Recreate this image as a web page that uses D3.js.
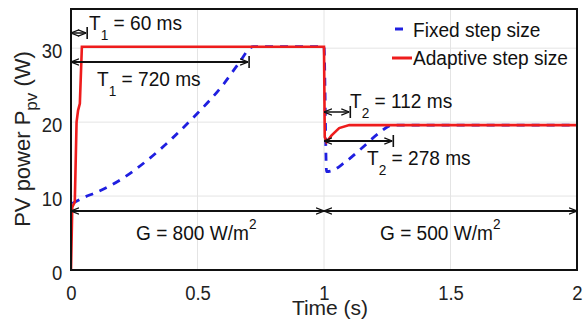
<!DOCTYPE html>
<html>
<head>
<meta charset="utf-8">
<script src="https://cdn.jsdelivr.net/npm/d3@7"></script>
<style>
  body { margin: 0; background: #fff; }
  svg { display: block; font-family: 'Liberation Sans', Arial, sans-serif; }
</style>
</head>
<body>
<svg id="chart"></svg>
<script>
// data
const adaptiveT = [0, 0.005, 0.015, 0.022, 0.028, 0.035, 0.043, 0.2, 0.5, 0.8, 1.0, 1.003, 1.01, 1.03, 1.06, 1.1, 1.5, 2.0];
const adaptiveP = [0, 8.5, 9.2, 20, 21.6, 22.5, 30.2, 30.2, 30.2, 30.2, 30.2, 18, 17.3, 18.2, 19.2, 19.6, 19.6, 19.6];
const fixedT = [0.005, 0.05, 0.1, 0.2, 0.3, 0.4, 0.5, 0.6, 0.66, 0.72, 0.85, 1.0, 1.01, 1.03, 1.08, 1.15, 1.22, 1.27, 1.5, 2.0];
const fixedP = [9, 9.8, 10.5, 12.3, 14.8, 17.8, 21.2, 25, 27.8, 30.2, 30.2, 30.2, 13.3, 13.4, 14.5, 16.5, 18.6, 19.6, 19.6, 19.6];
const xTicks = [0, 0.5, 1, 1.5, 2];
const xTickLabels = ['0', '0.5', '1', '1.5', '2'];
const yTicks = [0, 10, 20, 30];
const seriesNames = ['Fixed step size', 'Adaptive step size'];

const W = 584, H = 326;
const margin = { top: 9, right: 7, bottom: 56, left: 71 };
const SX = 0.91; // horizontal squeeze, the figure uses a narrow face

const svg = d3.select('#chart').attr('width', W).attr('height', H);

const x = d3.scaleLinear().domain([0, 2]).range([margin.left, W - margin.right]);
const y = d3.scaleLinear().domain([0, 35.3]).range([H - margin.bottom, margin.top]);

// grid
svg.append('g')
  .selectAll('line')
  .data(xTicks)
  .join('line')
  .attr('x1', (d) => x(d)).attr('x2', (d) => x(d))
  .attr('y1', y(0)).attr('y2', y(35.3))
  .attr('stroke', '#e4e4e4').attr('stroke-width', 1);
svg.append('g')
  .selectAll('line')
  .data(yTicks)
  .join('line')
  .attr('x1', x(0)).attr('x2', x(2))
  .attr('y1', (d) => y(d)).attr('y2', (d) => y(d))
  .attr('stroke', '#e4e4e4').attr('stroke-width', 1);

// axes
const xAxis = svg.append('g')
  .attr('transform', `translate(0,${y(0)})`)
  .call(d3.axisBottom(x).tickValues(xTicks).tickFormat((d, i) => xTickLabels[i]).tickSize(0).tickPadding(15));
xAxis.select('.domain').remove();
xAxis.selectAll('text').attr('font-size', 21).attr('fill', '#222').attr('font-family', null)
  .attr('transform', 'scale(0.88,1)');

const yAxis = svg.append('g')
  .attr('transform', `translate(${x(0)},0)`)
  .call(d3.axisLeft(y).tickValues(yTicks).tickSize(0).tickPadding(10));
yAxis.select('.domain').remove();
yAxis.selectAll('text').attr('font-size', 21).attr('fill', '#222').attr('font-family', null)
  .attr('dy', '0.45em').attr('transform', 'scale(0.88,1)');

// series
const fixedData = fixedT.map((t, i) => [t, fixedP[i]]);
const adaptiveData = adaptiveT.map((t, i) => [t, adaptiveP[i]]);

svg.append('clipPath').attr('id', 'clip').append('rect')
  .attr('x', x(0)).attr('y', y(35.3)).attr('width', x(2) - x(0)).attr('height', y(0) - y(35.3));

svg.append('path')
  .datum(fixedData)
  .attr('clip-path', 'url(#clip)')
  .attr('d', d3.line().x((d) => x(d[0])).y((d) => y(d[1])).curve(d3.curveMonotoneX))
  .attr('fill', 'none').attr('stroke', '#1f1fe0').attr('stroke-width', 2.8)
  .attr('stroke-dasharray', '8,7');

svg.append('path')
  .datum(adaptiveData)
  .attr('clip-path', 'url(#clip)')
  .attr('d', d3.line().x((d) => x(d[0])).y((d) => y(d[1])))
  .attr('fill', 'none').attr('stroke', '#ee1c1c').attr('stroke-width', 2.6);

// frame
svg.append('rect')
  .attr('x', x(0)).attr('y', y(35.3))
  .attr('width', x(2) - x(0)).attr('height', y(0) - y(35.3))
  .attr('fill', 'none').attr('stroke', '#111').attr('stroke-width', 2);

// arrow marker
svg.append('defs').append('marker').attr('id', 'arr').attr('viewBox', '0 0 10 10')
  .attr('refX', 10).attr('refY', 5).attr('markerWidth', 8).attr('markerHeight', 8)
  .attr('markerUnits', 'userSpaceOnUse').attr('orient', 'auto-start-reverse')
  .append('path').attr('d', 'M0,1 L10,5 L0,9').attr('fill', 'none').attr('stroke', '#111').attr('stroke-width', 1.6);

function dimension(t0, t1, py, bar, sw) {
  const g = svg.append('g');
  g.append('line')
    .attr('x1', x(t0)).attr('x2', x(t1)).attr('y1', py).attr('y2', py)
    .attr('stroke', '#111').attr('stroke-width', sw)
    .attr('marker-start', 'url(#arr)')
    .attr('marker-end', 'url(#arr)');
  if (bar) {
    g.append('line').attr('x1', x(t1) + 1).attr('x2', x(t1) + 1)
      .attr('y1', py - 6).attr('y2', py + 6).attr('stroke', '#111').attr('stroke-width', 1.6);
  }
}

// text with a main part, optional sub/superscript, and a tail
function label(px, py, main, script, dyScript, rest) {
  const t = svg.append('g').attr('transform', `translate(${px},${py}) scale(${SX},1)`)
    .append('text').attr('font-size', 21).attr('fill', '#111');
  t.append('tspan').text(main);
  t.append('tspan').attr('font-size', 15).attr('dy', dyScript).text(script);
  if (rest) t.append('tspan').attr('dy', -dyScript).text(rest);
  return t;
}

dimension(0, 0.06, 33, true, 1.5);
label(89, 30, 'T', '1', 10, ' = 60 ms');

dimension(0, 0.7, 62, true, 2);
label(97, 86, 'T', '1', 10, ' = 720 ms');

dimension(1, 1.1, 112, true, 1.5);
label(350, 108, 'T', '2', 10, ' = 112 ms');

dimension(1, 1.27, 141, true, 2);
label(367, 165, 'T', '2', 10, ' = 278 ms');

dimension(0, 1, 211, false, 2);
dimension(1, 2, 211, false, 2);

label(136, 240, 'G = 800 W/m', '2', -11, null);
label(380, 240, 'G = 500 W/m', '2', -11, null);

// legend
const legend = svg.append('g');
legend.append('line').attr('x1', 395).attr('x2', 403).attr('y1', 29).attr('y2', 29)
  .attr('stroke', '#1f1fe0').attr('stroke-width', 3);
legend.append('line').attr('x1', 392).attr('x2', 412).attr('y1', 58).attr('y2', 58)
  .attr('stroke', '#ee1c1c').attr('stroke-width', 3);
legend.selectAll('g.item').data(seriesNames).join('g')
  .attr('class', 'item')
  .attr('transform', (d, i) => `translate(413,${37 + i * 28}) scale(${SX},1)`)
  .append('text')
  .attr('font-size', 21).attr('fill', '#111').text((d) => d);

// axis titles
svg.append('text').attr('x', 330).attr('y', 315).attr('text-anchor', 'middle')
  .attr('font-size', 21).attr('fill', '#222').text('Time (s)');

const yt = svg.append('text').attr('transform', 'translate(30,139) rotate(-90)')
  .attr('text-anchor', 'middle').attr('font-size', 22).attr('fill', '#222');
yt.append('tspan').text('PV power P');
yt.append('tspan').attr('font-size', 17).attr('dy', 7).text('pv');
yt.append('tspan').attr('dy', -7).text(' (W)');
</script>
</body>
</html>
